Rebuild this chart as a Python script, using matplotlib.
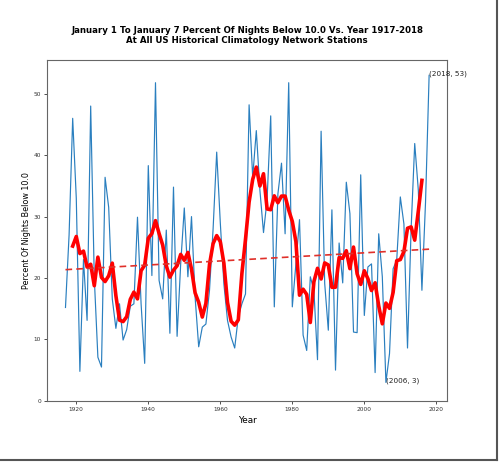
import numpy as np
import matplotlib
matplotlib.use("Agg")
import matplotlib.pyplot as plt
from matplotlib.lines import Line2D

# percent of nights below 10.0 F, Jan 1-7
years = list(range(1917, 2019))
pct = [15.2, 27.0, 46.0, 33.0, 4.8, 23.0, 13.1, 48.0, 20.0, 7.1,
       5.5, 36.4, 31.5, 16.6, 11.8, 15.8, 9.9, 11.6, 15.4, 15.8,
       29.9, 15.8, 6.1, 38.3, 20.4, 51.8, 19.6, 16.6, 27.8, 11.0,
       34.8, 10.5, 22.3, 31.4, 20.2, 30.0, 16.9, 8.8, 12.0, 12.5,
       18.0, 28.0, 40.5, 29.0, 19.0, 13.1, 10.4, 8.6, 13.7, 15.8,
       17.4, 48.2, 36.4, 44.0, 34.3, 27.4, 32.8, 46.4, 15.3, 33.7,
       38.7, 27.2, 51.8, 15.3, 22.3, 29.5, 10.7, 8.2, 20.2, 18.0,
       6.7, 43.9, 19.1, 11.5, 31.1, 5.0, 25.7, 19.2, 35.6, 30.5,
       11.2, 11.1, 36.8, 13.9, 21.8, 22.3, 4.6, 27.2, 20.2, 3.0,
       7.7, 21.5, 22.9, 33.2, 28.8, 8.6, 28.0, 41.9, 34.3, 18.0,
       32.3, 53.0]
window = 5
title = ("January 1 To January 7 Percent Of Nights Below 10.0 Vs. Year 1917-2018\n"
         "At All US Historical Climatology Network Stations")
notes = [(2018, 53), (2006, 3)]

x = np.array(years)
y = np.array(pct)

# centred running mean and linear trend
smooth = np.convolve(y, np.ones(window) / window, mode="valid")
xs = x[window // 2: len(x) - window // 2]
coef = np.polyfit(x, y, 1)
trend = np.polyval(coef, x)

fig = plt.figure(figsize=(5.0, 4.65), dpi=100)
ax = fig.add_axes([0.0946, 0.138, 0.80, 0.733])

ax.plot(x, y, color="#2a7fbf", lw=0.85)
ax.plot(xs, smooth, color="red", lw=2.6)
ax.plot(x, trend, color="#e0302a", lw=1.2, ls="--", dashes=(4, 2.5))
ax.set_ylim(bottom=0)

for nx, ny in notes:
    ax.text(nx, ny, "(%d, %d)" % (nx, ny), fontsize=5.2, color="#222222")

ax.set_title(title, fontsize=6.2, fontweight="bold", pad=12, linespacing=1.2)
ax.set_xlabel("Year", fontsize=6.4, labelpad=3)
ax.set_ylabel("Percent Of Nights Below 10.0", fontsize=5.8, labelpad=2)
ax.tick_params(labelsize=4.2, length=2.5, width=0.6, colors="#333333", pad=2)
for s in ax.spines.values():
    s.set_color("#666666")
    s.set_linewidth(0.8)

# screenshot frame shadow
fig.add_artist(Line2D([0.002, 0.994], [0.011, 0.011], transform=fig.transFigure,
                      color="#555555", lw=1.5))
fig.add_artist(Line2D([0.993, 0.993], [0.011, 0.998], transform=fig.transFigure,
                      color="#555555", lw=1.5))

fig.savefig("out.png", dpi=100)
